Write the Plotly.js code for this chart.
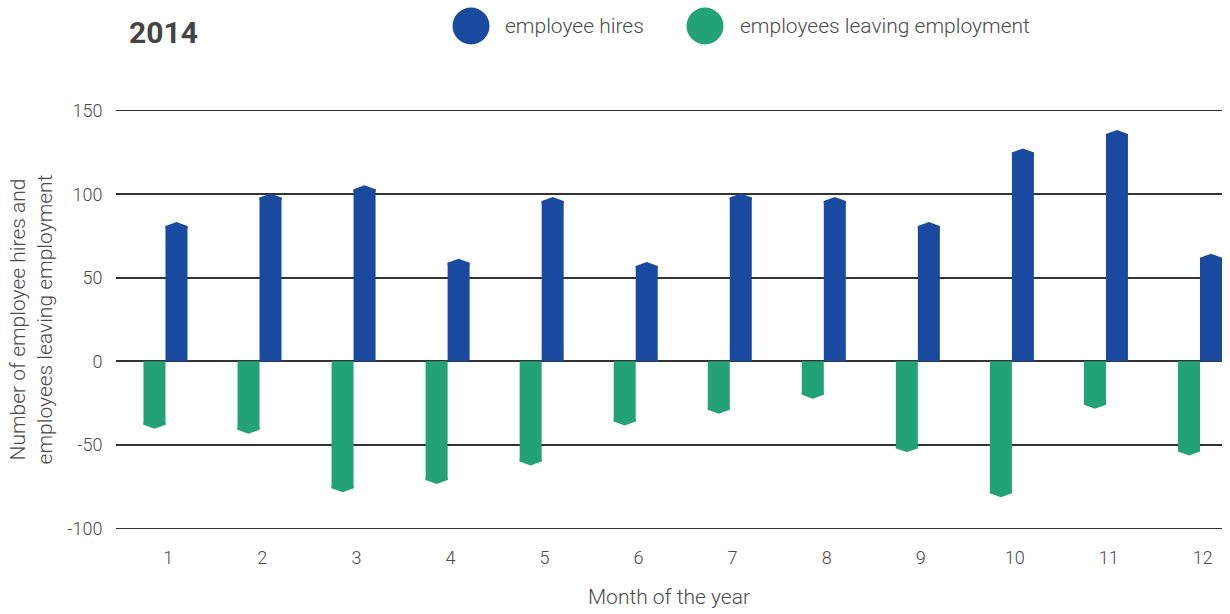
<!DOCTYPE html>
<html>
<head>
<meta charset="utf-8">
<script src="https://cdn.plot.ly/plotly-3.0.1.min.js"></script>
<style>html,body{margin:0;padding:0;background:#fff;}#chart{width:1230px;height:614px;}</style>
</head>
<body>
<div id="chart"></div>
<script>
// ---- data ----
const months = [1, 2, 3, 4, 5, 6, 7, 8, 9, 10, 11, 12];
const monthLabels = ["1", "2", "3", "4", "5", "6", "7", "8", "9", "10", "11", "12"];
const hires = [81, 98, 103, 59, 96, 57, 98, 96, 81, 125, 136, 62];
const leaving = [-38, -41, -76, -71, -60, -36, -29, -20, -52, -79, -26, -54];
const seriesNames = ["employee hires", "employees leaving employment"];
const yTicks = [-100, -50, 0, 50, 100, 150];
const yTickLabels = ["-100", "-50", "0", "50", "100", "150"];
const chartTitle = "2014";
const xTitle = "Month of the year";
const yTitle = "Number of employee hires and<br>employees leaving employment";

// ---- style ----
const BLUE = "#1a4a9f";
const GREEN = "#22a276";
const TEXT = "#4a4a4a";
const FONT = "Roboto, 'Noto Sans', sans-serif";
const W = 1230, H = 614;
const M = {l: 116, r: 8, t: 109, b: 84};
const BW = 0.234;     // bar width in month units
const CAP = 2.4;      // pointed end height (axis units)
const OVERLAP = 1.5;  // cap reaches into the bar to avoid a seam

function capTrace(vals, off, color, dir) {
  const xs = [], ys = [];
  months.forEach((m, i) => {
    const x0 = m + off, v = vals[i];
    xs.push(x0, x0, x0 + BW / 2, x0 + BW, x0 + BW, null);
    ys.push(v - dir * OVERLAP, v, v + dir * CAP, v, v - dir * OVERLAP, null);
  });
  return {type: "scatter", x: xs, y: ys, mode: "lines", fill: "toself",
          fillcolor: color, line: {color: color, width: 0},
          hoverinfo: "skip", showlegend: false};
}

const traces = [
  {type: "bar", name: seriesNames[1], x: months, y: leaving, width: BW, offset: -BW,
   marker: {color: GREEN, line: {width: 0}}, showlegend: false},
  {type: "bar", name: seriesNames[0], x: months, y: hires, width: BW, offset: 0,
   marker: {color: BLUE, line: {width: 0}}, showlegend: false},
  capTrace(leaving, -BW, GREEN, -1),
  capTrace(hires, 0, BLUE, 1)
];

// helpers for pixel -> paper in the header area
const pw = W - M.l - M.r, ph = H - M.t - M.b;
const px = x => (x - M.l) / pw;
const py = y => (H - M.b - y) / ph;

const layout = {
  width: W, height: H,
  margin: M,
  paper_bgcolor: "#fff", plot_bgcolor: "#fff",
  font: {family: FONT, color: TEXT, size: 18, weight: 300},
  barmode: "overlay",
  showlegend: false,
  title: {text: chartTitle, xref: "container", yref: "container",
          x: 129 / W, xanchor: "left", y: 1 - 32 / H, yanchor: "middle",
          font: {family: FONT, size: 30, weight: 700, color: "#444"}},
  xaxis: {
    range: [0.474, 12.234],
    tickmode: "array", tickvals: months.map(m => m + 0.03), ticktext: monthLabels,
    showgrid: false, zeroline: false, showline: false,
    ticks: "outside", ticklen: 11, tickcolor: "rgba(0,0,0,0)",
    tickfont: {family: FONT, size: 18, color: TEXT, weight: 300},
    title: {text: xTitle, standoff: 22, font: {family: FONT, size: 21, color: TEXT, weight: 300}},
    fixedrange: true
  },
  yaxis: {
    range: [-101, 151],
    tickmode: "array", tickvals: yTicks, ticktext: yTickLabels,
    showgrid: true, gridcolor: "#333", gridwidth: 1.6,
    zeroline: true, zerolinecolor: "#333", zerolinewidth: 1.6,
    showline: false,
    ticks: "outside", ticklen: 9, tickcolor: "rgba(0,0,0,0)",
    tickfont: {family: FONT, size: 18, color: TEXT, weight: 300},
    title: {text: yTitle, standoff: 8, font: {family: FONT, size: 21, color: TEXT, weight: 300}},
    fixedrange: true
  },
  shapes: [
    {type: "circle", xref: "paper", yref: "paper", xsizemode: "pixel", ysizemode: "pixel",
     xanchor: px(471), yanchor: py(26), x0: -18.5, x1: 18.5, y0: -18.5, y1: 18.5,
     fillcolor: BLUE, line: {width: 0}},
    {type: "circle", xref: "paper", yref: "paper", xsizemode: "pixel", ysizemode: "pixel",
     xanchor: px(705), yanchor: py(26), x0: -18.5, x1: 18.5, y0: -18.5, y1: 18.5,
     fillcolor: GREEN, line: {width: 0}}
  ],
  annotations: [
    {text: seriesNames[0], xref: "paper", yref: "paper", x: px(503), y: py(26),
     xanchor: "left", yanchor: "middle", showarrow: false,
     font: {family: FONT, size: 21, color: TEXT, weight: 300}},
    {text: seriesNames[1], xref: "paper", yref: "paper", x: px(738), y: py(26),
     xanchor: "left", yanchor: "middle", showarrow: false,
     font: {family: FONT, size: 21, color: TEXT, weight: 300}}
  ]
};

Plotly.newPlot("chart", traces, layout, {displayModeBar: false, staticPlot: true});
</script>
</body>
</html>
